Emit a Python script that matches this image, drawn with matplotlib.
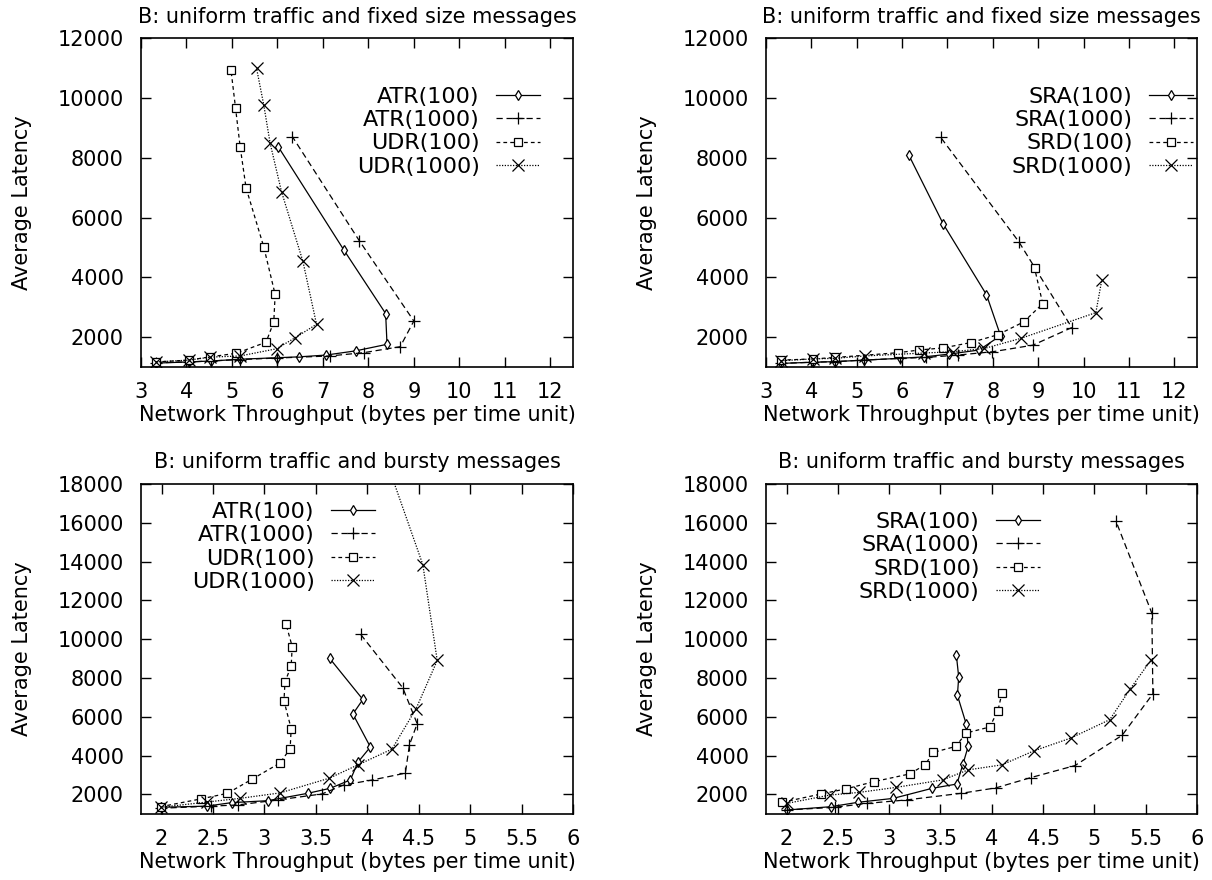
import matplotlib
matplotlib.use("Agg")
import matplotlib.pyplot as plt

plt.rcParams['font.family'] = ['DejaVu Sans']
FS = 15
LFS = 16

# ---------------- Data ----------------
# Panel A: ATR/UDR, fixed size messages
atr100_x = [3.33, 4.05, 4.53, 5.18, 5.98, 6.48, 7.07, 7.72, 8.41, 8.38, 7.46, 6.02]
atr100_y = [1130, 1170, 1200, 1260, 1310, 1340, 1400, 1540, 1760, 2790, 4920, 8370]
atr1000_x = [3.33, 4.05, 4.53, 5.18, 6.00, 7.15, 7.90, 8.70, 9.00, 7.80, 6.33]
atr1000_y = [1140, 1170, 1200, 1250, 1300, 1370, 1480, 1680, 2540, 5230, 8710]
udr100_x = [3.33, 4.05, 4.52, 5.10, 5.75, 5.92, 5.95, 5.70, 5.31, 5.18, 5.08, 4.98]
udr100_y = [1170, 1230, 1340, 1460, 1830, 2510, 3430, 5020, 7000, 8380, 9660, 10930]
udr1000_x = [3.33, 4.05, 4.52, 5.18, 5.98, 6.39, 6.86, 6.56, 6.09, 5.84, 5.70, 5.54]
udr1000_y = [1170, 1230, 1330, 1370, 1610, 1980, 2430, 4540, 6870, 8490, 9770, 11010]

# Panel B: SRA/SRD, fixed size messages
sra100_x = [3.32, 4.03, 4.52, 5.15, 5.95, 6.49, 7.03, 7.70, 8.17, 7.86, 6.91, 6.15]
sra100_y = [1120, 1160, 1180, 1230, 1290, 1340, 1430, 1570, 2050, 3420, 5780, 8090]
sra1000_x = [3.32, 4.03, 4.52, 5.15, 5.96, 6.53, 7.23, 7.99, 8.88, 9.74, 8.57, 6.85]
sra1000_y = [1120, 1160, 1180, 1230, 1290, 1320, 1400, 1510, 1730, 2320, 5200, 8690]
srd100_x = [3.32, 4.04, 4.53, 5.92, 6.38, 6.91, 7.52, 8.11, 8.68, 9.10, 8.92]
srd100_y = [1230, 1270, 1320, 1480, 1570, 1640, 1820, 2080, 2510, 3120, 4310]
srd1000_x = [3.32, 4.03, 4.52, 5.18, 6.49, 7.12, 7.81, 8.62, 10.27, 10.40]
srd1000_y = [1210, 1270, 1290, 1370, 1470, 1510, 1620, 1960, 2820, 3900]

# Panel C: ATR/UDR, bursty messages
batr100_x = [1.99, 2.44, 2.68, 3.03, 3.42, 3.64, 3.835, 3.91, 4.03, 3.86, 3.957, 3.634]
batr100_y = [1330, 1390, 1570, 1670, 2050, 2310, 2740, 3660, 4440, 6140, 6890, 9010]
batr1000_x = [1.99, 2.48, 2.74, 3.13, 3.56, 3.77, 4.05, 4.37, 4.41, 4.485, 4.345, 3.935]
batr1000_y = [1280, 1390, 1450, 1710, 2020, 2480, 2740, 3090, 4550, 5640, 7490, 10250]
budr100_x = [1.99, 2.38, 2.64, 2.88, 3.15, 3.25, 3.26, 3.19, 3.20, 3.26, 3.27, 3.21]
budr100_y = [1360, 1760, 2050, 2780, 3610, 4350, 5380, 6820, 7800, 8610, 9620, 10770]
budr1000_x = [1.99, 2.44, 2.76, 3.15, 3.63, 3.91, 4.24, 4.475, 4.68, 4.54, 4.00]
budr1000_y = [1330, 1600, 1790, 2070, 2830, 3520, 4330, 6420, 8900, 13840, 22000]

# Panel D: SRA/SRD, bursty messages
bsra100_x = [2.00, 2.43, 2.70, 3.04, 3.42, 3.66, 3.72, 3.77, 3.75, 3.665, 3.678, 3.655]
bsra100_y = [1190, 1360, 1590, 1790, 2310, 2530, 3570, 4470, 5640, 7110, 8040, 9180]
bsra1000_x = [2.00, 2.47, 2.78, 3.17, 3.70, 4.04, 4.38, 4.81, 5.27, 5.57, 5.56, 5.21]
bsra1000_y = [1190, 1330, 1530, 1710, 2050, 2330, 2860, 3480, 5040, 7180, 11340, 16090]
bsrd100_x = [1.96, 2.34, 2.58, 2.85, 3.20, 3.35, 3.43, 3.65, 3.75, 3.98, 4.06, 4.10]
bsrd100_y = [1590, 2020, 2280, 2650, 3050, 3520, 4160, 4470, 5160, 5470, 6320, 7230]
bsrd1000_x = [2.00, 2.42, 2.71, 3.07, 3.52, 3.77, 4.10, 4.41, 4.77, 5.15, 5.35, 5.55]
bsrd1000_y = [1530, 1960, 2100, 2360, 2740, 3260, 3520, 4240, 4900, 5850, 7440, 8910]

titles = ["B: uniform traffic and fixed size messages",
          "B: uniform traffic and fixed size messages",
          "B: uniform traffic and bursty messages",
          "B: uniform traffic and bursty messages"]
xlabel = "Network Throughput (bytes per time unit)"
ylabel = "Average Latency"

top_xticks = [3, 4, 5, 6, 7, 8, 9, 10, 11, 12]
top_yticks = [2000, 4000, 6000, 8000, 10000, 12000]
bot_xticks = [2, 2.5, 3, 3.5, 4, 4.5, 5, 5.5, 6]
bot_xticklabels = ["2", "2.5", "3", "3.5", "4", "4.5", "5", "5.5", "6"]
bot_yticks = [2000, 4000, 6000, 8000, 10000, 12000, 14000, 16000, 18000]

# ---------------- Styles ----------------
styles = [
    dict(ls='-', marker='d', ms=5.5, mfc='white'),
    dict(ls=(0, (5, 3)), marker='+', ms=8),
    dict(ls=(0, (3, 2.5)), marker='s', ms=6, mfc='white'),
    dict(ls=(0, (1, 1.2)), marker='x', ms=8),
]

fig = plt.figure(figsize=(12.12, 8.8), dpi=100)
W, H = 1212.0, 880.0

def axes_px(l, t, r, b):
    return fig.add_axes([l / W, 1 - b / H, (r - l) / W, (b - t) / H])

ax1 = axes_px(141, 38.5, 573, 367)
ax2 = axes_px(766, 38.5, 1197, 367)
ax3 = axes_px(141, 484, 573, 813.7)
ax4 = axes_px(766, 484, 1197, 813.7)

panels = [
    (ax1, [("ATR(100)", atr100_x, atr100_y), ("ATR(1000)", atr1000_x, atr1000_y),
           ("UDR(100)", udr100_x, udr100_y), ("UDR(1000)", udr1000_x, udr1000_y)]),
    (ax2, [("SRA(100)", sra100_x, sra100_y), ("SRA(1000)", sra1000_x, sra1000_y),
           ("SRD(100)", srd100_x, srd100_y), ("SRD(1000)", srd1000_x, srd1000_y)]),
    (ax3, [("ATR(100)", batr100_x, batr100_y), ("ATR(1000)", batr1000_x, batr1000_y),
           ("UDR(100)", budr100_x, budr100_y), ("UDR(1000)", budr1000_x, budr1000_y)]),
    (ax4, [("SRA(100)", bsra100_x, bsra100_y), ("SRA(1000)", bsra1000_x, bsra1000_y),
           ("SRD(100)", bsrd100_x, bsrd100_y), ("SRD(1000)", bsrd1000_x, bsrd1000_y)]),
]

legend_anchor = [(0.9236, 0.853), (0.9907, 0.853), (0.5417, 0.9457), (0.6357, 0.9154)]

for i, (ax, series) in enumerate(panels):
    for (lab, xs, ys), st in zip(series, styles):
        ax.plot(xs, ys, color='black', lw=0.9, mew=0.9, mec='black',
                label=lab, **st)
    if i < 2:
        ax.set_xlim(3, 12.5)
        ax.set_ylim(1000, 12000)
        ax.set_xticks(top_xticks)
        ax.set_xticklabels([str(t) for t in top_xticks])
        ax.set_yticks(top_yticks)
    else:
        ax.set_xlim(1.8, 6.0)
        ax.set_ylim(1000, 18000)
        ax.set_xticks(bot_xticks)
        ax.set_xticklabels(bot_xticklabels)
        ax.set_yticks(bot_yticks)
    ax.set_yticklabels([str(int(t)) for t in ax.get_yticks()])
    ax.tick_params(direction='in', length=7, width=1, top=True, right=True,
                   labelsize=FS)
    ax.tick_params(axis='x', pad=11)
    ax.tick_params(axis='y', pad=12.5)
    for sp in ax.spines.values():
        sp.set_linewidth(1.2)
    ax.set_title(titles[i], fontsize=FS, pad=11.5)
    ax.set_xlabel(xlabel, fontsize=FS, labelpad=2)
    ax.set_ylabel(ylabel, fontsize=FS, labelpad=18.5)
    ax.legend(loc='upper right', bbox_to_anchor=legend_anchor[i], frameon=False,
              markerfirst=False, fontsize=LFS, handlelength=2.0,
              handletextpad=0.72, labelspacing=0.15, borderpad=0, borderaxespad=0)

fig.savefig("out.png", dpi=100)
